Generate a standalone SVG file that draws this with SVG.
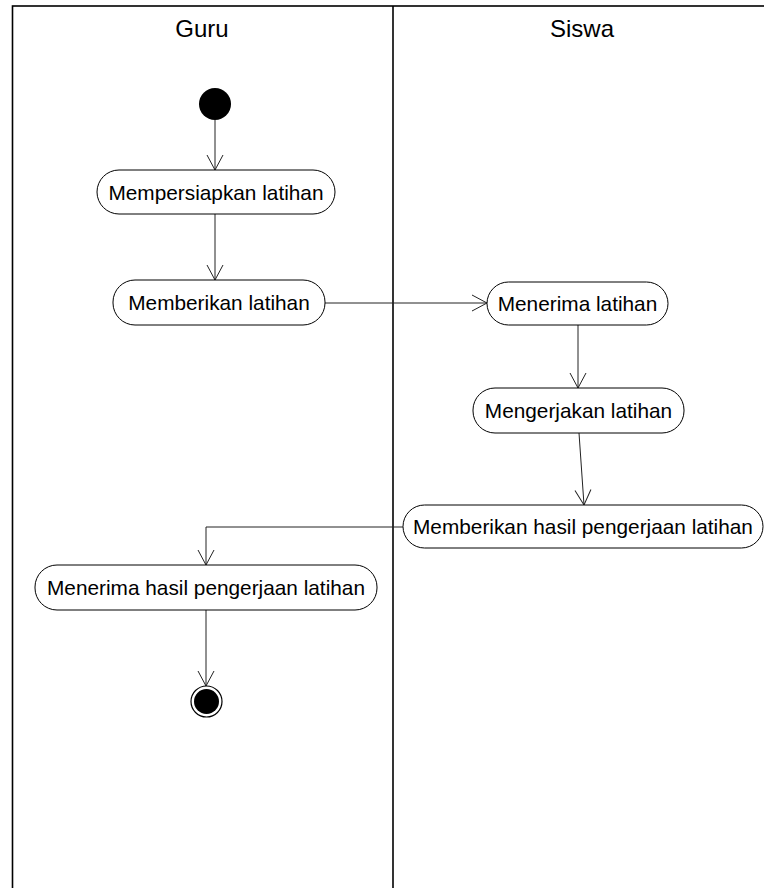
<svg xmlns="http://www.w3.org/2000/svg" width="764" height="888" viewBox="0 0 764 888">
<style>
.lane{fill:none;stroke:#000;stroke-width:1.6}
.hdr{font-family:"Liberation Sans",Arial,sans-serif;font-size:24px;fill:#000;text-anchor:middle}
.act rect{fill:#fff;stroke:#000;stroke-width:1}
.act text{font-family:"Liberation Sans",Arial,sans-serif;font-size:20.8px;fill:#000;text-anchor:middle}
.edge{fill:none;stroke:#222;stroke-width:1}
</style>
<defs>
<marker id="arr" markerUnits="userSpaceOnUse" markerWidth="20" markerHeight="20" viewBox="-16 -10 20 20" refX="0" refY="0" orient="auto">
<path d="M-15,-8 L0,0 L-15,8" fill="none" stroke="#222" stroke-width="1"/>
</marker>
</defs>
<rect width="764" height="888" fill="#fff"/>
<g id="lanes">
<rect class="lane" x="12.5" y="6" width="800" height="1000"/>
<line class="lane" x1="393" y1="6" x2="393" y2="888"/>
<text class="hdr" x="202" y="36.5">Guru</text>
<text class="hdr" x="582" y="36.5">Siswa</text>
</g>
<g id="connectors">
<line class="edge" x1="215" y1="120" x2="215" y2="170" marker-end="url(#arr)"/>
<line class="edge" x1="215" y1="214" x2="215" y2="280" marker-end="url(#arr)"/>
<line class="edge" x1="325" y1="303" x2="487" y2="303" marker-end="url(#arr)"/>
<line class="edge" x1="578" y1="325" x2="578" y2="388" marker-end="url(#arr)"/>
<line class="edge" x1="579" y1="433" x2="584" y2="505" marker-end="url(#arr)"/>
<polyline class="edge" points="403,527 206,527 206,565" marker-end="url(#arr)"/>
<line class="edge" x1="206" y1="610" x2="206" y2="686" marker-end="url(#arr)"/>
</g>
<g id="start"><circle cx="215" cy="104" r="16" fill="#000"/></g>
<g id="a1" class="act"><rect x="97" y="170" width="238" height="44" rx="22"/><text x="216" y="199.5">Mempersiapkan latihan</text></g>
<g id="a2" class="act"><rect x="113" y="280" width="212" height="45" rx="22"/><text x="219" y="310">Memberikan latihan</text></g>
<g id="a3" class="act"><rect x="487" y="282" width="181" height="43" rx="21.5"/><text x="577.5" y="311">Menerima latihan</text></g>
<g id="a4" class="act"><rect x="473" y="388" width="211" height="45" rx="22"/><text x="578.5" y="418">Mengerjakan latihan</text></g>
<g id="a5" class="act"><rect x="403" y="505" width="360" height="43" rx="21.5"/><text x="583" y="534">Memberikan hasil pengerjaan latihan</text></g>
<g id="a6" class="act"><rect x="35" y="565" width="342" height="45" rx="22"/><text x="206" y="595">Menerima hasil pengerjaan latihan</text></g>
<g id="end"><circle cx="206.5" cy="701.5" r="15.5" fill="#fff" stroke="#000" stroke-width="1.2"/><circle cx="206.5" cy="701.5" r="12.5" fill="#000"/></g>
</svg>
